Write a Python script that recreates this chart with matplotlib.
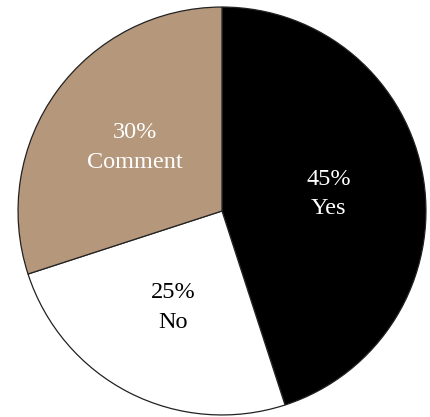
import matplotlib.pyplot as plt

# Survey answers
categories = ["Yes", "No", "Comment"]
shares = [45, 25, 30]
colors = ["#000000", "#ffffff", "#b5977c"]
text_colors = ["white", "black", "white"]

plt.rcParams['font.family'] = ['Liberation Serif', 'DejaVu Serif']

fig = plt.figure(figsize=(4.31, 4.17), dpi=100)
ax = fig.add_axes([16 / 431, 0 / 417, 412 / 431, 412 / 417])

labels = [f"{v}%\n{c}" for v, c in zip(shares, categories)]
wedges, texts = ax.pie(
    shares,
    labels=labels,
    colors=colors,
    startangle=90,
    counterclock=False,
    labeldistance=0.53,
    wedgeprops=dict(edgecolor="#222222", linewidth=0.9),
)
for t, col in zip(texts, text_colors):
    t.set_color(col)
    t.set_fontsize(17.5)
    t.set_ha("center")
    t.set_va("center")
    t.set_linespacing(1.55)

ax.set_xlim(-1.01, 1.01)
ax.set_ylim(-1.01, 1.01)
ax.set_aspect("equal")
ax.axis("off")

fig.savefig("out.png", dpi=100)
